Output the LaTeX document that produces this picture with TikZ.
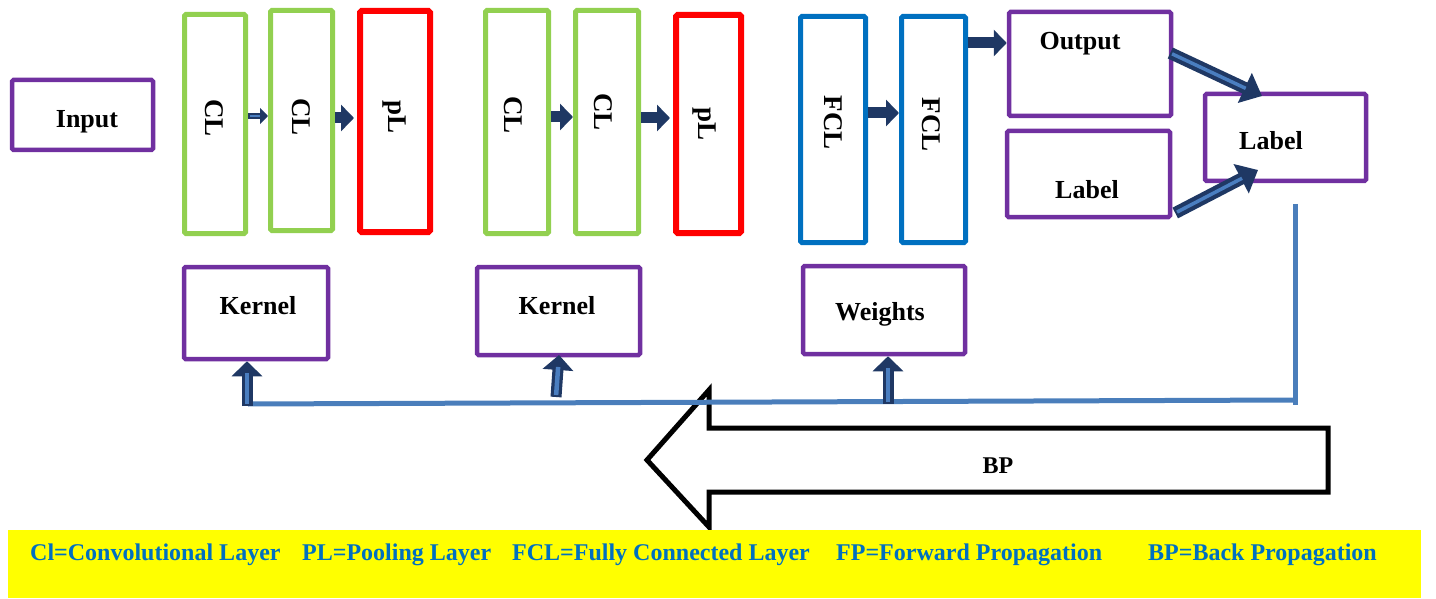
\documentclass[tikz,border=0pt]{standalone}
\usepackage{fontspec}
\setmainfont{Liberation Serif}
\usetikzlibrary{arrows.meta,calc}

\definecolor{boxpurple}{HTML}{7030A0}
\definecolor{convgreen}{HTML}{92D050}
\definecolor{poolred}{HTML}{FF0000}
\definecolor{fcblue}{HTML}{0070C0}
\definecolor{navy}{HTML}{1F3864}
\definecolor{innerblue}{HTML}{4A7EC0}
\definecolor{bpline}{HTML}{4A7EBB}
\definecolor{legendyellow}{HTML}{FFFF00}

\begin{document}
\begin{tikzpicture}[x=1pt,y=-1pt,
  box/.style={draw, rounded corners=1.5pt, inner sep=0pt, fill=white},
  pbox/.style={box, draw=boxpurple, line width=4.5pt},
  gbox/.style={box, draw=convgreen, line width=5pt},
  rbox/.style={box, draw=poolred, line width=6pt},
  bbox/.style={box, draw=fcblue, line width=5pt},
  txt/.style={font=\fontsize{26}{30}\selectfont\bfseries, inner sep=0pt},
  vtxt/.style={font=\fontsize{27}{30}\selectfont\bfseries, inner sep=0pt, rotate=-90},
  fat/.style={draw=navy, line width=11pt, -{Triangle[length=13pt,width=26pt]}},
  thinout/.style={draw=navy, line width=6pt, -{Triangle[length=8pt,width=16pt]}},
  thinin/.style={draw=innerblue, line width=2.5pt, shorten >=8pt, shorten <=1.5pt},
  diagout/.style={draw=navy, line width=12pt, -{Triangle[length=19pt,width=32pt]}},
  diagin/.style={draw=innerblue, line width=3.5pt, shorten >=18pt, shorten <=2pt},
  upout/.style={draw=navy, line width=11pt, -{Triangle[length=15pt,width=30pt]}},
  upin/.style={draw=innerblue, line width=4.5pt, shorten >=12pt, shorten <=2pt},
  legend/.style={font=\fontsize{24}{28}\selectfont\bfseries, text=fcblue, inner sep=0pt, anchor=west}
]
\useasboundingbox (0,0) rectangle (1436,599);

% ---- layer boxes ----
\node[pbox, minimum width=141pt, minimum height=70pt] (inp) at (82.5,115) {};
\node[gbox, minimum width=61pt, minimum height=219pt] (cl1) at (215,124) {};
\node[gbox, minimum width=62pt, minimum height=220pt] (cl2) at (301.5,120.5) {};
\node[rbox, minimum width=70pt, minimum height=221pt] (pl1) at (395,121.5) {};
\node[gbox, minimum width=63pt, minimum height=223pt] (cl3) at (517,122) {};
\node[gbox, minimum width=63pt, minimum height=223pt] (cl4) at (607,122) {};
\node[rbox, minimum width=65pt, minimum height=218pt] (pl2) at (708.5,124) {};
\node[bbox, minimum width=65pt, minimum height=226pt] (fc1) at (833,129.5) {};
\node[bbox, minimum width=64pt, minimum height=226pt] (fc2) at (933.5,129.5) {};
\node[pbox, minimum width=162pt, minimum height=104pt] (out) at (1090,64) {};
\node[pbox, minimum width=163pt, minimum height=86pt] (lab) at (1088.5,174) {};
\node[pbox, minimum width=161pt, minimum height=87pt] (cmp) at (1285.5,137.5) {};
\node[pbox, minimum width=144pt, minimum height=92pt] (k1) at (256,313) {};
\node[pbox, minimum width=163pt, minimum height=88pt] (k2) at (558.5,311) {};
\node[pbox, minimum width=162pt, minimum height=88pt] (wt) at (884,310) {};

% ---- box texts ----
\node[txt] (tinp) at (87,122) {Input};
\node[vtxt] (tcl1) at (214,118) {CL};
\node[vtxt] (tcl2) at (301,117) {CL};
\node[vtxt] (tpl1) at (394,117) {pL};
\node[vtxt] (tcl3) at (513,115) {CL};
\node[vtxt] (tcl4) at (603,112) {CL};
\node[vtxt] (tpl2) at (704,124) {pL};
\node[vtxt] (tfc1) at (833,123) {FCL};
\node[vtxt] (tfc2) at (931,125) {FCL};
\node[txt] (tout) at (1080,44) {Output};
\node[txt] (tlab) at (1087,190) {Label};
\node[txt] (tcmp) at (1271,141) {Label};
\node[txt] (tk1) at (258,306) {Kernel};
\node[txt] (tk2) at (557,306) {Kernel};
\node[txt] (twt) at (880,314) {Weights};

% ---- forward arrows ----
\draw[thinout] (cl1.east |- 0,116) -- (cl2.west |- 0,116);
\draw[thinin]  (cl1.east |- 0,116) -- (cl2.west |- 0,116);
\draw[fat] (cl2.east |- 0,118) -- ([xshift=-3pt]pl1.west |- 0,118);
\draw[fat] (cl3.east |- 0,117) -- (cl4.west |- 0,117);
\draw[fat] (cl4.east |- 0,118) -- ([xshift=-3pt]pl2.west |- 0,118);
\draw[fat] (fc1.east |- 0,113) -- (fc2.west |- 0,113);
\draw[fat] (fc2.east |- 0,43) -- (out.west |- 0,43);

% ---- comparison arrows ----
\coordinate (ostart) at ([xshift=-3pt]out.east |- 0,53);
\coordinate (otip) at (1262,96);
\coordinate (lstart) at ([xshift=3pt]lab.east |- 0,213);
\coordinate (ltip) at (1258,170);
\draw[diagout] (ostart) -- (otip);
\draw[diagin]  (ostart) -- (otip);
\draw[diagout] (lstart) -- (ltip);
\draw[diagin]  (lstart) -- (ltip);

% ---- back propagation arrow ----
\draw[line width=5pt, fill=white, line join=miter]
  (1328,428) -- (709,428) -- (709,390) -- (647,460) -- (709,527)
  -- (709,492) -- (1328,492) -- cycle;
\node[font=\fontsize{24}{28}\selectfont\bfseries, inner sep=0pt] (tbp) at (998,466) {BP};

% ---- feedback line ----
\coordinate (fbtop) at (1295,204);
\coordinate (fbcorner) at (1295,400);
\coordinate (fbend) at (248,404);
\draw[bpline, line width=5pt] (fbtop) -- ($(fbcorner)+(0,5)$);
\draw[bpline, line width=5pt] (fbcorner) -- (fbend);

% ---- update arrows ----
\coordinate (b1) at (247,406);
\coordinate (b2) at (556,397);
\coordinate (b2t) at (559,355);
\coordinate (b3) at (888,404);
\draw[upout] (b1) -- (b1 |- k1.south);
\draw[upin]  (b1) -- (b1 |- k1.south);
\draw[upout] (b2) -- (b2t);
\draw[upin]  (b2) -- (b2t);
\draw[upout] (b3) -- (b3 |- wt.south);
\draw[upin]  (b3) -- (b3 |- wt.south);

% ---- legend ----
\fill[legendyellow] (8,530) rectangle (1421,598);
\node[legend] (l1) at (30,555) {Cl=Convolutional Layer};
\node[legend] (l2) at (302,555) {PL=Pooling Layer};
\node[legend] (l3) at (512,555) {FCL=Fully Connected Layer};
\node[legend] (l4) at (836,555) {FP=Forward Propagation};
\node[legend] (l5) at (1148,555) {BP=Back Propagation};
\end{tikzpicture}
\end{document}
